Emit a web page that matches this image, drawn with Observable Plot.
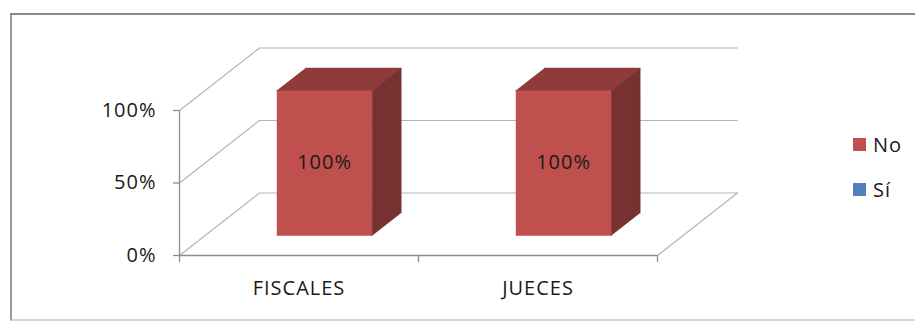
<!DOCTYPE html>
<html>
<head>
<meta charset="utf-8">
<script src="https://cdn.jsdelivr.net/npm/d3@7"></script>
<script src="https://cdn.jsdelivr.net/npm/@observablehq/plot@0.6"></script>
<style>
  html, body { margin: 0; padding: 0; background: #fff; }
  #wrap { position: relative; width: 915px; height: 321px; overflow: hidden; }
  #border { position: absolute; left: 10px; top: 13px; width: 1000px; height: 308px;
            border-top: 2px solid #8a8a8a; border-left: 2px solid #9a9a9a;
            border-bottom: 2px solid #d4d4d4; box-sizing: border-box; }
  #chart { position: absolute; left: 0; top: 0; }
  .legend { position: absolute; left: 853px; font: 20px "Open Sans", sans-serif; letter-spacing: 1px; color: #1a1a1a; display: flex; align-items: center; }
  .legend span.sw { display: inline-block; width: 13px; height: 13px; margin-right: 7px; }
  svg text { letter-spacing: 1px; }
</style>
</head>
<body>
<div id="wrap">
  <div id="border"></div>
  <div id="chart"></div>
  <div id="legend"></div>
</div>
<script>
// ---- data ----
const categories = ["FISCALES", "JUECES"];
const series = ["No", "Sí"];
const noValues = [1, 1];
const siValues = [0, 0];
const yTicks = [0, 0.5, 1];
const barLabels = ["100%", "100%"];

// ---- style / geometry constants ----
const seriesColors = ["#C0504D", "#4F81BD"];
const DX = 80 / 239;   // depth offset in x data units
const DY = 62.5 / 145; // depth offset in y data units
const D1 = 0.32, D2 = 0.68; // bar front/back depth
const B0 = 0.3, B1 = 0.7;   // bar extent within category

const P = (x, y, d) => ({x: x + d * DX, y: y + d * DY});

// walls / gridlines
const grid = [];
yTicks.forEach((v, k) => {
  [P(0, v, 0), P(0, v, 1), P(categories.length, v, 1)].forEach(p => grid.push({...p, key: "g" + k}));
});
[P(categories.length, 0, 0), P(categories.length, 0, 1)].forEach(p => grid.push({...p, key: "floorR"}));

// bars
const faces = [];
const labels = [];
const seriesValues = [noValues, siValues];
categories.forEach((c, i) => {
  let base = 0;
  series.forEach((s, j) => {
    const v = seriesValues[j][i];
    const y0 = base, y1 = base + v;
    base = y1;
    if (v <= 0) return;
    const col = d3.color(seriesColors[j]);
    const x0 = i + B0, x1 = i + B1;
    const front = [P(x0, y0, D1), P(x1, y0, D1), P(x1, y1, D1), P(x0, y1, D1)];
    const top = [P(x0, y1, D1), P(x1, y1, D1), P(x1, y1, D2), P(x0, y1, D2)];
    const side = [P(x1, y0, D1), P(x1, y1, D1), P(x1, y1, D2), P(x1, y0, D2)];
    front.forEach(p => faces.push({...p, key: `${i}-${j}-f`, color: col.formatHex()}));
    top.forEach(p => faces.push({...p, key: `${i}-${j}-t`, color: col.darker(0.85).formatHex()}));
    side.forEach(p => faces.push({...p, key: `${i}-${j}-s`, color: col.darker(1.35).formatHex()}));
    labels.push({...P(i + 0.5, (y0 + y1) / 2, D1), text: barLabels[i]});
  });
});

const chart = Plot.plot({
  width: 915,
  height: 321,
  marginLeft: 179,
  marginRight: 258,
  marginTop: 110,
  marginBottom: 66,
  style: {fontFamily: "'Open Sans', sans-serif", fontSize: "20px", color: "#1a1a1a", background: "transparent", overflow: "visible"},
  x: {domain: [0, categories.length]},
  y: {domain: [0, 1]},
  color: {type: "identity"},
  marks: [
    Plot.line(grid, {x: "x", y: "y", z: "key", stroke: "#b4b4b4", strokeWidth: 1.2}),
    Plot.ruleX([0], {y1: 0, y2: 1, stroke: "#8c8c8c", strokeWidth: 1.3}),
    Plot.ruleY([0], {x1: 0, x2: categories.length, stroke: "#8c8c8c", strokeWidth: 1.3}),
    Plot.axisY({ticks: yTicks, tickFormat: d3.format(".0%"), tickSize: 6, tickPadding: 17, label: null, stroke: "#8c8c8c", strokeWidth: 1.3, fill: "#1a1a1a", fontSize: 20}),
    Plot.axisX({ticks: d3.range(categories.length + 1), tickSize: 7, tickFormat: () => "", label: null, stroke: "#8c8c8c", strokeWidth: 1.3}),
    Plot.axisX({ticks: categories.map((c, i) => i + 0.5), tickSize: 0, tickPadding: 25, tickFormat: d => categories[Math.floor(d)], label: null, fill: "#1a1a1a", fontSize: 20}),
    Plot.line(faces, {x: "x", y: "y", z: "key", fill: "color", stroke: "color", strokeWidth: 0.5}),
    Plot.text(labels, {x: "x", y: "y", text: "text", fill: "#1a1a1a", fontSize: 20})
  ]
});
document.getElementById("chart").appendChild(chart);

// legend
const legend = document.getElementById("legend");
const legendTops = [131, 176];
series.forEach((s, j) => {
  const div = document.createElement("div");
  div.className = "legend";
  div.style.top = legendTops[j] + "px";
  div.innerHTML = `<span class="sw" style="background:${seriesColors[j]}"></span>${s}`;
  legend.appendChild(div);
});
</script>
</body>
</html>
